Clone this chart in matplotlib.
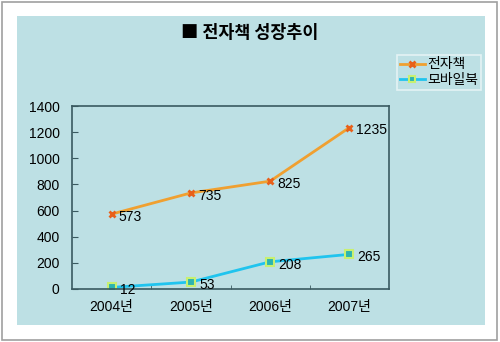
import matplotlib
matplotlib.use("Agg")
import matplotlib.pyplot as plt
from matplotlib.patches import Rectangle

plt.rcParams['font.family'] = ['Liberation Sans', 'Noto Sans CJK KR', 'DejaVu Sans']

# 데이터
years = ['2004년', '2005년', '2006년', '2007년']
ebook = [573, 735, 825, 1235]
mobile = [12, 53, 208, 265]
series_names = ['전자책', '모바일북']
yticks = [0, 200, 400, 600, 800, 1000, 1200, 1400]

bg = '#bde0e4'

fig = plt.figure(figsize=(5, 3.42), dpi=100, facecolor='white')
# 바깥 테두리 + 배경 패널
fig.patches.append(Rectangle((0.004, 0.006), 0.99, 0.988, transform=fig.transFigure,
                             facecolor='white', edgecolor='#a0a0a0', lw=1.2, zorder=-2))
fig.patches.append(Rectangle((0.034, 0.0497), 0.936, 0.9035, transform=fig.transFigure,
                             facecolor=bg, edgecolor='none', zorder=-1))

ax = fig.add_axes([0.144, 0.155, 0.634, 0.535])
ax.set_facecolor(bg)
x = list(range(len(years)))

ax.plot(x, ebook, color='#f0a030', lw=2, marker='x', ms=4.5, mew=2,
        mec='#e8601a', label=series_names[0])
ax.plot(x, mobile, color='#20c4ee', lw=2, marker='s', ms=5.5, mew=1.5,
        mfc='#2cb4b0', mec='#c8f070', label=series_names[1])

for xi, v in zip(x, ebook):
    ax.annotate(str(v), (xi, v), xytext=(5, -2), textcoords='offset points',
                ha='left', va='center', fontsize=10, color='black')
for xi, v in zip(x, mobile):
    ax.annotate(str(v), (xi, v), xytext=(6, -2), textcoords='offset points',
                ha='left', va='center', fontsize=10, color='black')

ax.set_xlim(-0.5, 3.5)
ax.set_ylim(0, 1400)
ax.set_yticks(yticks)
ax.set_xticks(x)
ax.set_xticklabels(years)
ax.set_xticks([0.5, 1.5, 2.5], minor=True)
ax.tick_params(axis='x', which='major', length=0, pad=8, labelsize=10)
ax.tick_params(axis='x', which='minor', direction='in', length=3, color='#3a5a60')
ax.tick_params(axis='y', direction='in', length=4, pad=9, labelsize=10, color='#3a5a60')
for s in ax.spines.values():
    s.set_color('#3a5a60')
    s.set_linewidth(1.2)

fig.text(0.5, 0.903, '■ 전자책 성장추이', ha='center', va='center',
         fontsize=12.5, fontweight='bold', family=['Noto Sans CJK KR', 'DejaVu Sans'])

leg = fig.legend(loc='upper left', bbox_to_anchor=(0.794, 0.84), frameon=True,
                 fancybox=False, fontsize=10, handlelength=1.8, handletextpad=0.2,
                 borderpad=0.2, labelspacing=0.1, borderaxespad=0, markerscale=0.9)
leg.get_frame().set_facecolor(bg)
leg.get_frame().set_edgecolor('#eef8f8')
leg.get_frame().set_linewidth(1.2)

fig.savefig('out.png', dpi=100, facecolor='white')
